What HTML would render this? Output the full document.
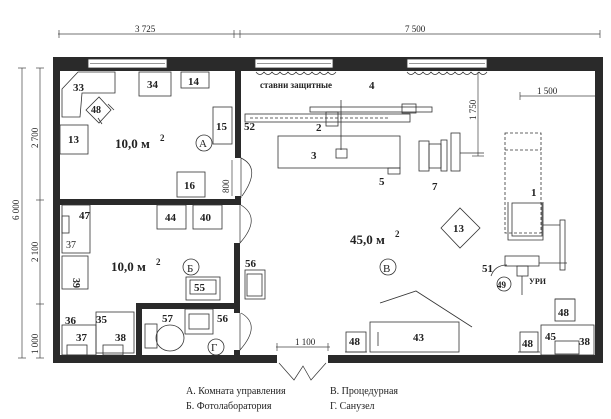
<!DOCTYPE html>
<html><head><meta charset="utf-8"><style>
body{margin:0;background:#fff}
svg{display:block}
text{font-family:"Liberation Serif",serif;fill:#222}
.b{font-weight:bold;font-size:11px}
.s{font-size:9px}
</style></head><body>
<svg width="611" height="419" viewBox="0 0 611 419" xmlns="http://www.w3.org/2000/svg">
<g fill="#2a2a2a">
<!-- outer walls -->
<rect x="53" y="57" width="550" height="14"/>
<rect x="53" y="57" width="7" height="306"/>
<rect x="595" y="57" width="8" height="306"/>
<rect x="53" y="355" width="224" height="8"/>
<rect x="328" y="355" width="275" height="8"/>
<!-- interior walls -->
<rect x="235" y="57" width="6" height="101"/>
<rect x="53" y="199" width="188" height="6"/>
<rect x="234" y="243" width="6" height="70"/>
<rect x="136" y="303" width="104" height="6"/>
<rect x="136" y="303" width="6" height="55"/>
<rect x="234" y="350" width="6" height="8"/>
<rect x="235" y="196" width="6" height="9"/>
</g>
<!-- windows -->
<g fill="#fff" stroke="#333" stroke-width="0.8">
<rect x="88" y="59" width="79" height="9"/>
<rect x="255" y="59" width="78" height="9"/>
<rect x="407" y="59" width="80" height="9"/>
</g>
<g stroke="#333" stroke-width="0.6">
<line x1="90" y1="63.5" x2="165" y2="63.5"/><line x1="257" y1="63.5" x2="331" y2="63.5"/><line x1="409" y1="63.5" x2="485" y2="63.5"/>
</g>
<!-- curtains -->
<path d="M256 72 q4 5 8 0 q4 5 8 0 q4 5 8 0 q4 5 8 0 q4 5 8 0 q4 5 8 0 q4 5 8 0 q4 5 8 0 q4 5 8 0 q4 5 8 0" fill="none" stroke="#333" stroke-width="0.7"/>
<path d="M407 72 q4 5 8 0 q4 5 8 0 q4 5 8 0 q4 5 8 0 q4 5 8 0 q4 5 8 0 q4 5 8 0 q4 5 8 0 q4 5 8 0 q4 5 8 0" fill="none" stroke="#333" stroke-width="0.7"/>
<text x="260" y="88" class="s" font-weight="bold">ставни защитные</text>
<!-- dimensions -->
<g stroke="#444" stroke-width="0.7" fill="none">
<line x1="58" y1="34" x2="600" y2="34"/>
<line x1="59" y1="30" x2="59" y2="38"/><line x1="234" y1="30" x2="234" y2="38"/><line x1="240" y1="30" x2="240" y2="38"/><line x1="600" y1="30" x2="600" y2="38"/>
<line x1="22" y1="68" x2="22" y2="358"/><line x1="18" y1="68" x2="26" y2="68"/><line x1="18" y1="358" x2="26" y2="358"/>
<line x1="40" y1="68" x2="40" y2="358"/>
<line x1="36" y1="68" x2="44" y2="68"/><line x1="36" y1="200" x2="44" y2="200"/><line x1="36" y1="304" x2="44" y2="304"/><line x1="36" y1="358" x2="44" y2="358"/>
<line x1="232" y1="160" x2="232" y2="196"/>
<line x1="478" y1="72" x2="478" y2="156"/><line x1="472" y1="156" x2="484" y2="156"/>
<line x1="520" y1="96" x2="595" y2="96"/><line x1="520" y1="92" x2="520" y2="100"/>
<line x1="276" y1="347" x2="330" y2="347"/><line x1="277" y1="343" x2="277" y2="351"/><line x1="328" y1="343" x2="328" y2="351"/>
</g>
<g class="s" font-size="9">
<text x="135" y="32" font-size="9">3 725</text>
<text x="405" y="32" font-size="9">7 500</text>
<text x="537" y="94" font-size="9">1 500</text>
<text x="295" y="345" font-size="9">1 100</text>
<text transform="translate(19,220) rotate(-90)" font-size="9">6 000</text>
<text transform="translate(38,148) rotate(-90)" font-size="9">2 700</text>
<text transform="translate(38,262) rotate(-90)" font-size="9">2 100</text>
<text transform="translate(38,354) rotate(-90)" font-size="9">1 000</text>
<text transform="translate(229,193) rotate(-90)" font-size="9">800</text>
<text transform="translate(476,120) rotate(-90)" font-size="9">1 750</text>
</g>
<!-- doors -->
<g fill="none" stroke="#333" stroke-width="0.7">
<path d="M241 198 L241 158 Q262 168 242 196"/>
<path d="M240 205 L240 243 Q262 218 241 205"/>
<path d="M240 313 L240 350 Q262 325 241 313"/>
<path d="M279 363 L294 380 L303 366 L311 380 L326 363"/>
</g>
<!-- Room A furniture -->
<g fill="none" stroke="#333" stroke-width="0.8">
<path d="M62 89 L78 72 L115 72 L115 93 L82 93 L80 117 L62 117 Z"/>
<path d="M86 110 L99 97 L111 110 L99 123 Z"/>
<line x1="108" y1="104" x2="114" y2="110"/><line x1="98" y1="118" x2="102" y2="124"/>
<rect x="139" y="72" width="32" height="24"/>
<rect x="181" y="72" width="28" height="16"/>
<rect x="213" y="107" width="19" height="37"/>
<rect x="60" y="125" width="28" height="29"/>
<rect x="177" y="172" width="28" height="25"/>
<!-- Room B -->
<rect x="62" y="205" width="28" height="48"/><rect x="62" y="216" width="7" height="17"/>
<rect x="62" y="256" width="26" height="33"/>
<rect x="157" y="205" width="29" height="24"/>
<rect x="193" y="205" width="29" height="24"/>
<rect x="186" y="277" width="34" height="23"/><rect x="190" y="280" width="26" height="14"/>
<rect x="245" y="270" width="20" height="29"/><rect x="247" y="274" width="15" height="22"/>
<rect x="62" y="325" width="34" height="30"/><rect x="67" y="345" width="20" height="10"/>
<rect x="96" y="312" width="38" height="41"/><rect x="103" y="345" width="20" height="10"/>
<!-- G -->
<rect x="185" y="309" width="28" height="25"/><rect x="189" y="314" width="20" height="15"/>
<rect x="145" y="324" width="12" height="24"/>
<ellipse cx="170" cy="338" rx="14" ry="13"/>
<!-- Room V -->
<rect x="245" y="114" width="165" height="8"/>
<line x1="250" y1="118" x2="390" y2="118" stroke-dasharray="3 2"/>
<rect x="310" y="107" width="122" height="5"/>
<rect x="402" y="104" width="14" height="9"/>
<rect x="326" y="112" width="12" height="14"/>
<line x1="341" y1="100" x2="341" y2="150"/>
<rect x="336" y="149" width="11" height="9"/>
<rect x="278" y="136" width="122" height="32"/><rect x="388" y="168" width="12" height="6"/>
<rect x="419" y="141" width="10" height="30"/><rect x="429" y="144" width="12" height="24"/><rect x="441" y="140" width="6" height="31"/><rect x="451" y="133" width="9" height="38"/>
<line x1="460" y1="153" x2="484" y2="153"/>
<rect x="505" y="133" width="36" height="100" stroke-dasharray="3 2"/>
<line x1="505" y1="150" x2="541" y2="150" stroke-dasharray="3 2"/>
<path d="M508 202 L508 240 L543 240 L543 202"/><rect x="512" y="203" width="30" height="33"/>
<rect x="560" y="220" width="5" height="50"/><line x1="543" y1="225" x2="560" y2="225"/>
<rect x="505" y="256" width="34" height="10"/><line x1="539" y1="263" x2="567" y2="263"/>
<path d="M491 276 Q495 265 507 265"/><rect x="517" y="266" width="11" height="10"/>
<line x1="522" y1="276" x2="522" y2="295"/>
<path d="M441 228 L460 208 L480 228 L460 248 Z"/>
<path d="M380 303 L416 291 L472 327"/>
<rect x="370" y="322" width="89" height="30"/><line x1="378" y1="332" x2="378" y2="346"/>
<rect x="346" y="332" width="20" height="20"/><line x1="345" y1="352" x2="367" y2="352"/>
<rect x="555" y="299" width="20" height="22"/><line x1="555" y1="299" x2="575" y2="299"/>
<rect x="520" y="332" width="18" height="20"/><line x1="518" y1="352" x2="540" y2="352"/>
<rect x="541" y="325" width="53" height="30"/><rect x="555" y="341" width="24" height="13"/>
</g>
<!-- circles -->
<g fill="none" stroke="#333" stroke-width="0.8">
<circle cx="204" cy="143" r="8"/><circle cx="191" cy="267" r="8"/><circle cx="216" cy="347" r="8"/><circle cx="388" cy="267" r="8"/><circle cx="504" cy="284" r="7"/>
</g>
<g class="b">
<text x="73" y="91">33</text><text x="147" y="88">34</text><text x="188" y="85">14</text>
<text x="91" y="113" font-size="10">48</text><text x="216" y="130">15</text><text x="244" y="130">52</text>
<text x="68" y="143">13</text><text x="184" y="189">16</text>
<text x="115" y="148" font-size="13">10,0 м</text><text x="160" y="141" font-size="9">2</text>
<text x="199" y="147" font-weight="normal">А</text>
<text x="79" y="219">47</text><text x="66" y="248" font-weight="normal" font-size="10">37</text>
<text transform="translate(73,278) rotate(90)" font-size="10">39</text>
<text x="165" y="221">44</text><text x="200" y="221">40</text>
<text x="111" y="271" font-size="13">10,0 м</text><text x="156" y="265" font-size="9">2</text>
<text x="187" y="272" font-weight="normal">Б</text>
<text x="194" y="291">55</text><text x="245" y="267">56</text>
<text x="65" y="324">36</text><text x="96" y="323">35</text><text x="76" y="341">37</text><text x="115" y="341">38</text>
<text x="162" y="322">57</text><text x="217" y="322">56</text><text x="211" y="351" font-weight="normal">Г</text>
<text x="369" y="89">4</text><text x="316" y="131">2</text><text x="311" y="159">3</text><text x="379" y="185">5</text><text x="432" y="190">7</text>
<text x="531" y="196">1</text><text x="453" y="232">13</text>
<text x="350" y="244" font-size="13">45,0 м</text><text x="395" y="237" font-size="9">2</text>
<text x="383" y="272" font-weight="normal">В</text>
<text x="482" y="272">51</text><text x="497" y="288" font-size="9">49</text>
<text x="529" y="284" font-size="8">УРИ</text>
<text x="413" y="341">43</text><text x="349" y="345">48</text><text x="558" y="316">48</text><text x="522" y="347">48</text>
<text x="545" y="340">45</text><text x="579" y="345">38</text>
</g>
<g font-size="10">
<text x="186" y="394">А. Комната управления</text>
<text x="186" y="409">Б. Фотолаборатория</text>
<text x="330" y="394">В. Процедурная</text>
<text x="330" y="409">Г. Санузел</text>
</g>
</svg>
</body></html>
